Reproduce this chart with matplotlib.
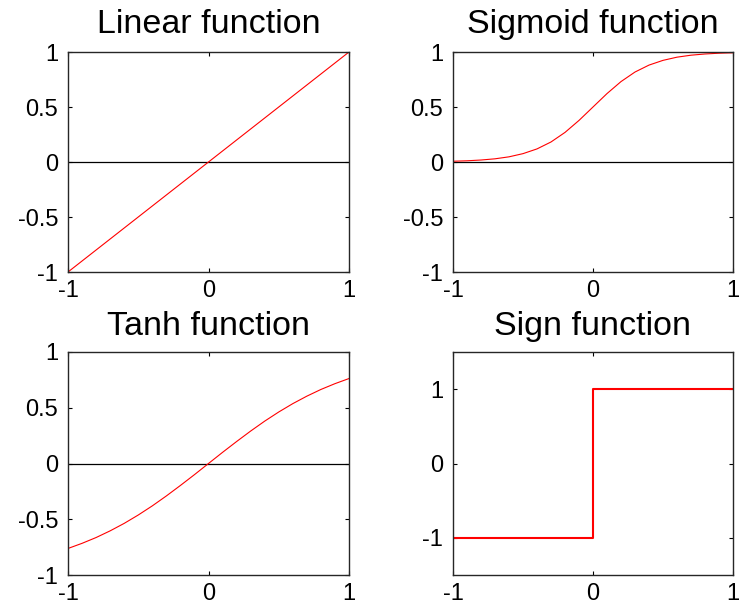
import matplotlib
matplotlib.use("Agg")
import matplotlib.pyplot as plt

plt.rcParams['font.family'] = ['Liberation Sans', 'DejaVu Sans']

# ---- data ----
titles = ["Linear function", "Sigmoid function", "Tanh function", "Sign function"]

lin_x = [-1.0, 1.0]
lin_y = [-1.0, 1.0]

curve_x = [-1.0, -0.9, -0.8, -0.7, -0.6, -0.5, -0.4, -0.3, -0.2, -0.1, 0.0,
           0.1, 0.2, 0.3, 0.4, 0.5, 0.6, 0.7, 0.8, 0.9, 1.0]
sig_y = [0.007, 0.011, 0.018, 0.029, 0.047, 0.076, 0.119, 0.182, 0.269, 0.378, 0.500,
         0.622, 0.731, 0.818, 0.881, 0.924, 0.953, 0.971, 0.982, 0.989, 0.993]
tanh_y = [-0.762, -0.716, -0.664, -0.604, -0.537, -0.462, -0.380, -0.291, -0.197, -0.100, 0.0,
          0.100, 0.197, 0.291, 0.380, 0.462, 0.537, 0.604, 0.664, 0.716, 0.762]

sign_x = [-1.0, 0.0, 0.0, 1.0]
sign_y = [-1.0, -1.0, 1.0, 1.0]

xticks = [-1, 0, 1]
xticklabels = ["-1", "0", "1"]
yticks_a = [-1, -0.5, 0, 0.5, 1]
yticklabels_a = ["-1", "-0.5", "0", "0.5", "1"]
yticks_sign = [-1, 0, 1]
yticklabels_sign = ["-1", "0", "1"]

W, H = 739, 604
fig = plt.figure(figsize=(W / 100, H / 100), dpi=100)

def rect(l, t, r, b):
    return [l / W, 1 - b / H, (r - l) / W, (b - t) / H]

positions = [rect(68, 52, 349, 272), rect(453, 52, 733, 272),
             rect(68, 352, 349, 575), rect(453, 352, 733, 575)]

axes = [fig.add_axes(p) for p in positions]

def style(ax, title, yt, ytl, ylim, tpad):
    ax.set_xlim(-1, 1)
    ax.set_ylim(*ylim)
    ax.set_xticks(xticks)
    ax.set_xticklabels(xticklabels)
    ax.set_yticks(yt)
    ax.set_yticklabels(ytl)
    ax.tick_params(direction='in', length=3, width=0.8, top=True, right=True,
                   labelsize=17, colors='black')
    ax.tick_params(axis='x', pad=6)
    ax.tick_params(axis='y', pad=7)
    for s in ax.spines.values():
        s.set_linewidth(1.0)
        s.set_color('#262626')
    ax.set_title(title, fontsize=24.5, pad=tpad)

# Linear
ax = axes[0]
ax.axhline(0, color='black', lw=0.9)
ax.plot(lin_x, lin_y, color='red', lw=0.8)
style(ax, titles[0], yticks_a, yticklabels_a, (-1, 1), 13.5)

# Sigmoid
ax = axes[1]
ax.axhline(0, color='black', lw=0.9)
ax.plot(curve_x, sig_y, color='red', lw=0.8)
style(ax, titles[1], yticks_a, yticklabels_a, (-1, 1), 13.5)

# Tanh
ax = axes[2]
ax.axhline(0, color='black', lw=0.9)
ax.plot(curve_x, tanh_y, color='red', lw=0.8)
style(ax, titles[2], yticks_a, yticklabels_a, (-1, 1), 12.5)

# Sign
ax = axes[3]
ax.plot(sign_x, sign_y, color='red', lw=1.5)
style(ax, titles[3], yticks_sign, yticklabels_sign, (-1.5, 1.5), 12.5)

fig.savefig("out.png", dpi=100)
